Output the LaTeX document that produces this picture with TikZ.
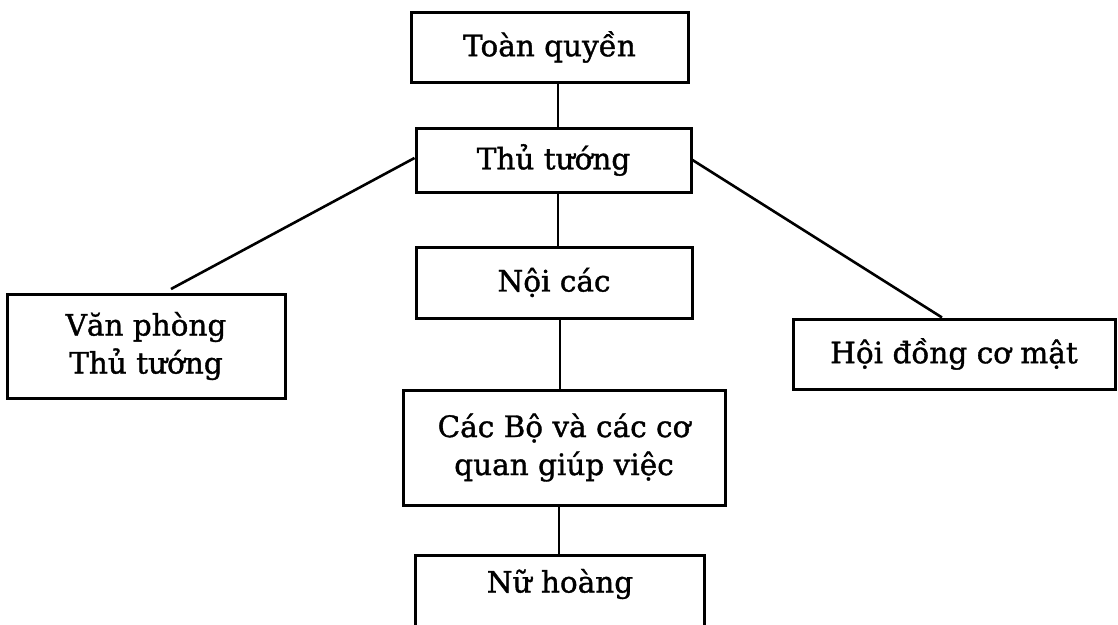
\documentclass[tikz,border=0pt]{standalone}
\usepackage{fontspec}
\setmainfont{DejaVu Serif}
\newfontfamily\boxfont{DejaVu Serif}[FakeBold=1.2]
\begin{document}
\begin{tikzpicture}[x=1pt,y=-1pt,
  box/.style={draw=black,line width=3pt,inner sep=0pt,align=center,
    font=\boxfont\fontsize{29.5}{38}\selectfont},
  link/.style={draw=black,line width=2.6pt}]
\useasboundingbox (0,0) rectangle (1118,624);
\clip (0,0) rectangle (1118,624);
% boxes
\node[box,minimum width=277pt,minimum height=70pt] (tq) at (549.5,47) {Toàn quyền};
\node[box,minimum width=275pt,minimum height=64pt] (tt) at (553.5,160) {Thủ tướng};
\node[box,minimum width=276pt,minimum height=71pt] (nc) at (554,282.5) {Nội các};
\node[box,minimum width=278pt,minimum height=104pt] (vp) at (146,346) {Văn phòng\\Thủ tướng};
\node[box,minimum width=322pt,minimum height=70pt] (hd) at (954,354) {Hội đồng cơ mật};
\node[box,minimum width=322pt,minimum height=115pt] (cb) at (564,447.5) {Các Bộ và các cơ\\quan giúp việc};
\node[box,draw=none,minimum width=286pt] (nh) at (560,584) {Nữ hoàng};
% open-bottom frame of the last box
\coordinate (nhtop) at (560,555);
\coordinate (nhbot) at (560,660);
\draw[line width=3pt] (nh.west |- nhbot) -- (nh.west |- nhtop) -- (nh.east |- nhtop) -- (nh.east |- nhbot);
% connector columns
\coordinate (c1) at (558,0);
\coordinate (c2) at (560,0);
\coordinate (c3) at (559,0);
\path[link] (tq.south -| c1) -- (tt.north -| c1);
\path[link] (tt.south -| c1) -- (nc.north -| c1);
\path[link] (nc.south -| c2) -- (cb.north -| c2);
\path[link] (cb.south -| c3) -- (nhtop -| c3);
% diagonal connectors
\coordinate (ttl) at (416,158);
\coordinate (vpend) at (171,289);
\coordinate (ttr) at (691,160);
\coordinate (hdend) at (942,319);
\path[link] (tt.west |- ttl) -- (vpend);
\path[link] (tt.east |- ttr) -- (hd.north -| hdend);
\end{tikzpicture}
\end{document}
